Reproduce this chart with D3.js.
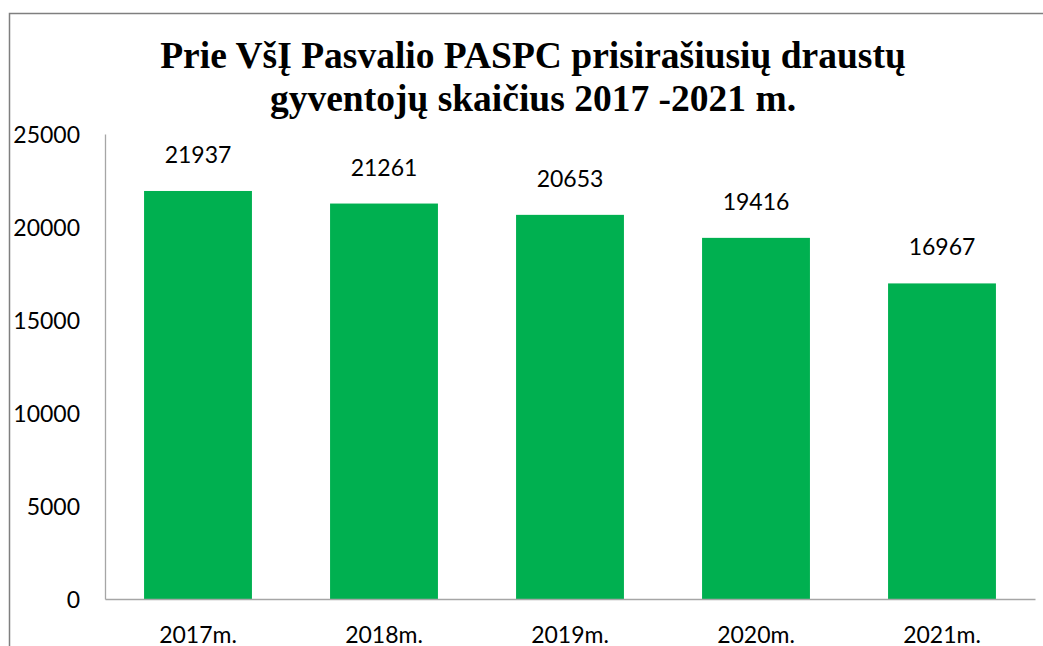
<!DOCTYPE html>
<html>
  <head>
    <meta charset="UTF-8">
    <style>
      body {
        margin: 0;
        background: white;
      }
      .tick-label, .bar-label, .cat-label {
        font-family: Lato, 'Open Sans', sans-serif;
        font-size: 23px;
        fill: #000;
      }
      .title {
        font-family: 'Liberation Serif', 'Times New Roman', serif;
        font-weight: bold;
        font-size: 37.5px;
      }
    </style>
    <script src="https://d3js.org/d3.v7.min.js"></script>
  </head>
  <body>
    <svg id="chart"></svg>
    <script>
      const titleLines = ['Prie VšĮ Pasvalio PASPC prisirašiusių draustų', 'gyventojų skaičius 2017 -2021 m.']
      const years = ['2017m.', '2018m.', '2019m.', '2020m.', '2021m.']
      const counts = [21937, 21261, 20653, 19416, 16967]
      const yTicks = [0, 5000, 10000, 15000, 20000, 25000]

      const width = 1043
      const height = 646
      const plot = { left: 105, right: 1035, top: 134, bottom: 599 }

      const svg = d3.select('#chart')
        .attr('width', width)
        .attr('height', height)

      // chart frame
      svg.append('path')
        .attr('d', `M${width + 5},13.5 H9.5 V${height + 5}`)
        .attr('fill', 'none')
        .attr('stroke', '#7f7f7f')
        .attr('stroke-width', 1.5)

      svg.selectAll('text.title')
        .data(titleLines)
        .enter()
        .append('text')
        .attr('class', 'title')
        .attr('x', 533)
        .attr('y', (d, i) => 68 + i * 43)
        .attr('text-anchor', 'middle')
        .text(d => d)

      let x = d3.scaleBand()
        .domain(years)
        .range([plot.left, plot.right])
        .paddingInner(0.42)
        .paddingOuter(0.21)

      let y = d3.scaleLinear()
        .domain([0, 25000])
        .range([plot.bottom, plot.top])

      // y axis
      let yAxis = svg.append('g')
        .attr('transform', `translate(${plot.left}, 0)`)
        .call(d3.axisLeft(y).tickValues(yTicks).tickFormat(d3.format('d')).tickSize(0).tickPadding(25))
      yAxis.select('.domain').attr('stroke', '#a6a6a6').attr('stroke-width', 1.3)
      yAxis.selectAll('text')
        .attr('class', 'tick-label')
        .attr('font-family', null)
        .attr('font-size', null)
        .attr('dy', '0.35em')

      svg.selectAll('rect.bar')
        .data(counts)
        .enter()
        .append('rect')
        .attr('class', 'bar')
        .attr('x', (d, i) => x(years[i]))
        .attr('width', x.bandwidth())
        .attr('y', d => y(d))
        .attr('height', d => y(0) - y(d))
        .attr('fill', '#00b050')

      // x axis
      let xAxis = svg.append('g')
        .attr('transform', `translate(0, ${plot.bottom})`)
        .call(d3.axisBottom(x).tickSize(0).tickPadding(0).tickSizeOuter(0))
      xAxis.select('.domain').attr('stroke', '#a6a6a6').attr('stroke-width', 1.3)
      xAxis.selectAll('text')
        .attr('class', 'cat-label')
        .attr('font-family', null)
        .attr('font-size', null)
        .attr('dy', null)
        .attr('y', 44)

      svg.selectAll('text.bar-label')
        .data(counts)
        .enter()
        .append('text')
        .attr('class', 'bar-label')
        .attr('x', (d, i) => x(years[i]) + x.bandwidth() / 2)
        .attr('y', d => y(d) - 28)
        .attr('text-anchor', 'middle')
        .text(d => d)
    </script>
  </body>
</html>
